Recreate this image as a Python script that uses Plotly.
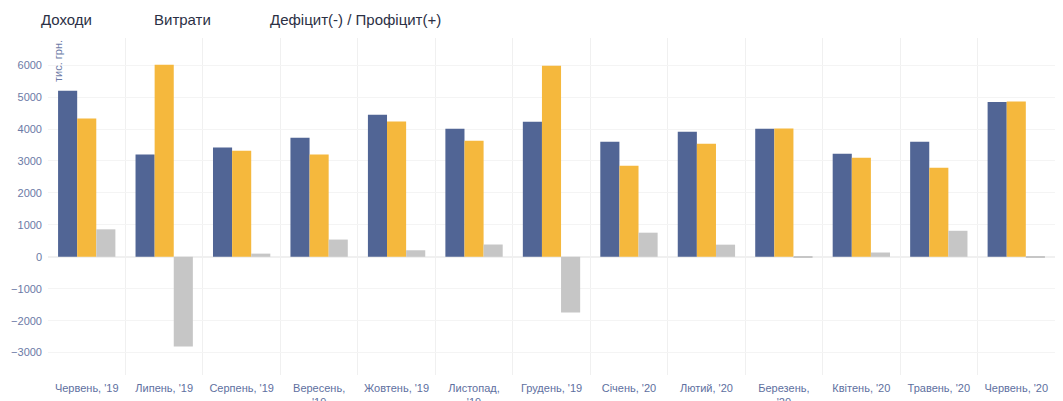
import plotly.graph_objects as go

months = ["Червень, '19", "Липень, '19", "Серпень, '19", "Вересень,<br>'19", "Жовтень, '19",
          "Листопад,<br>'19", "Грудень, '19", "Січень, '20", "Лютий, '20", "Березень,<br>'20",
          "Квітень, '20", "Травень, '20", "Червень, '20"]
income = [5200, 3200, 3420, 3730, 4450, 4010, 4230, 3600, 3915, 4010, 3230, 3600, 4850]
expenses = [4330, 6010, 3320, 3200, 4235, 3630, 5980, 2850, 3540, 4020, 3100, 2790, 4860]
balance = [860, -2805, 100, 540, 205, 385, -1745, 755, 380, -15, 135, 815, -10]

series_names = ["Доходи", "Витрати", "Дефіцит(-) / Профіцит(+)"]
colors = ["#516595", "#f5b83d", "#c6c6c6"]

fig = go.Figure()
for name, vals, c in zip(series_names, [income, expenses, balance], colors):
    fig.add_trace(go.Bar(x=months, y=vals, name=name, marker=dict(color=c, line=dict(width=0))))

W, H = 1063, 401
ml, mr, mt, mb = 48, 8, 38, 26
pw, ph = W - ml - mr, H - mt - mb

def px(x):
    return (x - ml) / pw

def py(y):
    return (H - mb - y) / ph

legend_pos = [39, 152, 268]
annotations = []
for name, x in zip(series_names, legend_pos):
    annotations.append(dict(text=name, xref="paper", yref="paper", x=px(x), y=py(20),
                            xanchor="left", yanchor="middle", showarrow=False,
                            font=dict(size=15, color="#2b3045")))
annotations.append(dict(text="тис. грн.", xref="paper", yref="paper", x=px(58), y=py(61),
                        xanchor="center", yanchor="middle", textangle=-90, showarrow=False,
                        font=dict(size=11, color="#6b7aa6")))

fig.update_layout(
    width=W, height=H,
    margin=dict(l=ml, r=mr, t=mt, b=mb),
    barmode="group", bargap=0.26, bargroupgap=0,
    showlegend=False,
    plot_bgcolor="white", paper_bgcolor="white",
    font=dict(family="Liberation Sans, Arial, sans-serif", size=11, color="#6b7aa6"),
    annotations=annotations,
)
fig.update_xaxes(tickson="boundaries", showgrid=True, gridcolor="#f0f0f0", gridwidth=1,
                 ticks="", ticklabelstandoff=5, tickfont=dict(size=11, color="#5e6fa0"),
                 tickangle=0, automargin=False)
fig.update_yaxes(range=[-3700, 6850], tickvals=[-3000, -2000, -1000, 0, 1000, 2000, 3000, 4000, 5000, 6000],
                 showgrid=True, gridcolor="#f4f4f4", zeroline=True, zerolinecolor="#f0f0f0",
                 ticks="", ticklabelstandoff=5, tickfont=dict(size=11, color="#6b7aa6"), automargin=False)

fig.write_html("out.html", config={"displayModeBar": False},
               post_script="document.body.style.margin='0';document.body.style.overflow='hidden';")
